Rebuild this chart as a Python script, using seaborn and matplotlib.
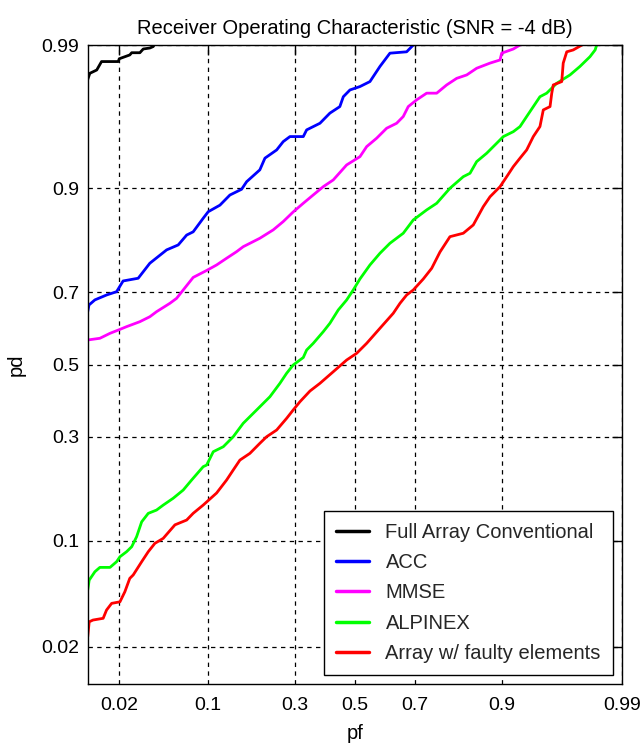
import math
import numpy as np
import pandas as pd
import matplotlib
matplotlib.use("Agg")
import matplotlib.pyplot as plt
import seaborn as sns

# ---------------- data ----------------
series_names = ["Full Array Conventional", "ACC", "MMSE", "ALPINEX", "Array w/ faulty elements"]
series_colors = ["#000000", "#0000ff", "#ff00ff", "#00ff00", "#ff0000"]

full_pf = [0.01, 0.0105, 0.0123, 0.0137, 0.0197, 0.0201, 0.025, 0.026, 0.0306, 0.0327, 0.0371, 0.0396, 0.045]
full_pd = [0.981, 0.983, 0.984, 0.9863, 0.9863, 0.987, 0.9879, 0.9884, 0.9884, 0.9892, 0.9894, 0.9897, 0.992]

acc_pf = [0.01, 0.0103, 0.0118, 0.0153, 0.019, 0.0218, 0.0296, 0.0371, 0.0506, 0.062, 0.0715, 0.0796,
          0.0933, 0.1008, 0.120, 0.1383, 0.162, 0.173, 0.204, 0.2168, 0.248, 0.2664, 0.286, 0.3267,
          0.3373, 0.3806, 0.414, 0.448, 0.46, 0.483, 0.5177, 0.5523, 0.5865, 0.62, 0.674, 0.6946, 0.715]
acc_pd = [0.6497, 0.6676, 0.681, 0.6936, 0.702, 0.7285, 0.735, 0.7695, 0.798, 0.808, 0.827, 0.833,
          0.8565, 0.867, 0.877, 0.8914, 0.899, 0.9084, 0.9218, 0.9335, 0.9409, 0.9477, 0.9515, 0.9515,
          0.9562, 0.9605, 0.9664, 0.9698, 0.9744, 0.9772, 0.9785, 0.9803, 0.985, 0.9883, 0.9886, 0.990, 0.991]

mmse_pf = [0.01, 0.0132, 0.0165, 0.0197, 0.0234, 0.0306, 0.0371, 0.0421, 0.0536, 0.0603, 0.0675, 0.0796,
           0.0984, 0.1143, 0.132, 0.1515, 0.1655, 0.204, 0.2386, 0.2664, 0.2957, 0.3267, 0.3586, 0.3916,
           0.4254, 0.4715, 0.5177, 0.541, 0.5753, 0.609, 0.642, 0.6633, 0.679, 0.7047, 0.7341, 0.762,
           0.788, 0.8124, 0.835, 0.8556, 0.8804, 0.8969, 0.8995, 0.9162, 0.9248, 0.935]
mmse_pd = [0.5708, 0.5757, 0.5898, 0.599, 0.6085, 0.6224, 0.636, 0.6497, 0.672, 0.685, 0.7063, 0.737,
           0.7532, 0.7657, 0.7804, 0.7943, 0.8045, 0.821, 0.8365, 0.851, 0.8667, 0.8798, 0.8915, 0.9023,
           0.9105, 0.9269, 0.9349, 0.9437, 0.9503, 0.9573, 0.9605, 0.9645, 0.9698, 0.973, 0.9759, 0.9759,
           0.9791, 0.9814, 0.9825, 0.9845, 0.9859, 0.9867, 0.9883, 0.9892, 0.990, 0.9905]

alp_pf = [0.01, 0.01035, 0.0118, 0.0132, 0.0165, 0.019, 0.0204, 0.0234, 0.026, 0.0287, 0.0317, 0.036,
          0.0421, 0.0476, 0.0568, 0.0675, 0.0776, 0.0933, 0.0984, 0.1088, 0.126, 0.1448, 0.1655, 0.1962,
          0.2298, 0.257, 0.2762, 0.2957, 0.3267, 0.3373, 0.3586, 0.3916, 0.414, 0.4425, 0.4715, 0.4944,
          0.5177, 0.5523, 0.5865, 0.62, 0.6633, 0.6945, 0.7341, 0.762, 0.7962, 0.8275, 0.842, 0.8556,
          0.8745, 0.8916, 0.902, 0.9162, 0.9248, 0.9327, 0.9465, 0.9526, 0.9606, 0.9695, 0.975, 0.9797,
          0.9818, 0.9824, 0.983]
alp_pd = [0.0503, 0.0582, 0.0657, 0.0698, 0.0698, 0.0755, 0.0808, 0.0864, 0.0923, 0.105, 0.126, 0.1392,
          0.1446, 0.153, 0.165, 0.1803, 0.2001, 0.2284, 0.232, 0.2627, 0.2747, 0.2995, 0.3343, 0.3703,
          0.4073, 0.4455, 0.4745, 0.4986, 0.5203, 0.542, 0.5613, 0.5944, 0.618, 0.6543, 0.6808, 0.7063,
          0.7333, 0.7657, 0.791, 0.8113, 0.8304, 0.8537, 0.8698, 0.8798, 0.9003, 0.9143, 0.9181, 0.9302,
          0.938, 0.9464, 0.9515, 0.955, 0.9584, 0.9645, 0.9744, 0.9759, 0.9797, 0.9825, 0.985, 0.9875,
          0.989, 0.990, 0.992]

faulty_pf = [0.01, 0.01035, 0.0113, 0.0142, 0.0153, 0.0171, 0.0204, 0.0226, 0.025, 0.0268, 0.0317, 0.036,
             0.0408, 0.0476, 0.0586, 0.0715, 0.0796, 0.0933, 0.1143, 0.132, 0.1448, 0.1584, 0.1804, 0.204,
             0.2212, 0.248, 0.2762, 0.2957, 0.3163, 0.348, 0.3806, 0.4254, 0.4715, 0.5063, 0.541, 0.5865,
             0.631, 0.6528, 0.674, 0.6945, 0.7244, 0.7483, 0.7707, 0.7962, 0.8275, 0.8488, 0.8683, 0.8804,
             0.8969, 0.907, 0.9162, 0.9248, 0.9327, 0.9399, 0.9465, 0.9496, 0.9554, 0.9568, 0.958, 0.9642,
             0.9652, 0.9675, 0.9714, 0.976, 0.978]
faulty_pd = [0.0237, 0.0305, 0.0314, 0.0323, 0.0369, 0.041, 0.042, 0.049, 0.0597, 0.0627, 0.0755, 0.0864,
             0.0964, 0.1028, 0.1215, 0.1287, 0.1393, 0.153, 0.1747, 0.2001, 0.2212, 0.2432, 0.2588, 0.283,
             0.2995, 0.3167, 0.3475, 0.3703, 0.3932, 0.4235, 0.4455, 0.479, 0.513, 0.5325, 0.5613, 0.604,
             0.6454, 0.672, 0.6936, 0.7063, 0.7333, 0.7582, 0.7936, 0.824, 0.8304, 0.8452, 0.8748, 0.889,
             0.9023, 0.9143, 0.9252, 0.9335, 0.9409, 0.9515, 0.9584, 0.9681, 0.9698, 0.9759, 0.9791, 0.9803,
             0.9859, 0.9886, 0.989, 0.990, 0.992]

tick_values = [0.02, 0.1, 0.3, 0.5, 0.7, 0.9, 0.99]
tick_labels = ["0.02", "0.1", "0.3", "0.5", "0.7", "0.9", "0.99"]

title_text = "Receiver Operating Characteristic (SNR = -4 dB)"
xlabel_text = "pf"
ylabel_text = "pd"

# ---------------- normal-probability scale ----------------
_A = [-3.969683028665376e+01, 2.209460984245205e+02, -2.759285104469687e+02,
      1.383577518672690e+02, -3.066479806614716e+01, 2.506628277459239e+00]
_B = [-5.447609879822406e+01, 1.615858368580409e+02, -1.556989798598866e+02,
      6.680131188771972e+01, -1.328068155288572e+01]
_C = [-7.784894002430293e-03, -3.223964580411365e-01, -2.400758277161838e+00,
      -2.549732539343734e+00, 4.374664141464968e+00, 2.938163982698783e+00]
_D = [7.784695709041462e-03, 3.224671290700398e-01, 2.445134137142996e+00,
      3.754408661907416e+00]


def norm_ppf(p):
    p = np.clip(np.asarray(p, dtype=float), 1e-12, 1 - 1e-12)
    out = np.empty_like(p)
    plow, phigh = 0.02425, 1 - 0.02425
    lo = p < plow
    hi = p > phigh
    mid = ~(lo | hi)
    if np.any(lo):
        q = np.sqrt(-2 * np.log(p[lo]))
        out[lo] = (((((_C[0]*q+_C[1])*q+_C[2])*q+_C[3])*q+_C[4])*q+_C[5]) / \
                  ((((_D[0]*q+_D[1])*q+_D[2])*q+_D[3])*q+1)
    if np.any(hi):
        q = np.sqrt(-2 * np.log(1 - p[hi]))
        out[hi] = -(((((_C[0]*q+_C[1])*q+_C[2])*q+_C[3])*q+_C[4])*q+_C[5]) / \
                   ((((_D[0]*q+_D[1])*q+_D[2])*q+_D[3])*q+1)
    if np.any(mid):
        q = p[mid] - 0.5
        r = q * q
        out[mid] = (((((_A[0]*r+_A[1])*r+_A[2])*r+_A[3])*r+_A[4])*r+_A[5]) * q / \
                   (((((_B[0]*r+_B[1])*r+_B[2])*r+_B[3])*r+_B[4])*r+1)
    return out


_verf = np.vectorize(math.erf, otypes=[float])


def norm_cdf(z):
    z = np.asarray(z, dtype=float)
    return 0.5 * (1 + _verf(z / math.sqrt(2)))


# ---------------- data frame ----------------
frames = []
for name, xs, ys in zip(series_names,
                        [full_pf, acc_pf, mmse_pf, alp_pf, faulty_pf],
                        [full_pd, acc_pd, mmse_pd, alp_pd, faulty_pd]):
    frames.append(pd.DataFrame({"pf": xs, "pd": ys, "series": name}))
df = pd.concat(frames, ignore_index=True)

# ---------------- plot ----------------
sns.set_style("white")
plt.rcParams["font.family"] = ["Liberation Sans", "DejaVu Sans"]

fig = plt.figure(figsize=(6.44, 7.48), dpi=100)
ax = fig.add_axes([87.7 / 644, 64 / 748, (622 - 87.7) / 644, (684 - 45) / 748])

sns.lineplot(data=df, x="pf", y="pd", hue="series", hue_order=series_names,
             palette=dict(zip(series_names, series_colors)), sort=False,
             estimator=None, linewidth=2.0, ax=ax)

ax.set_xscale("function", functions=(norm_ppf, norm_cdf))
ax.set_yscale("function", functions=(norm_ppf, norm_cdf))
ax.set_xlim(0.01, 0.99)
ax.set_ylim(0.01, 0.99)

ax.set_xticks(tick_values)
ax.set_xticklabels(tick_labels)
ax.set_yticks(tick_values)
ax.set_yticklabels(tick_labels)
ax.minorticks_off()

ax.tick_params(axis="both", which="major", direction="in", length=7, width=1.0,
               top=True, right=True, labelsize=14, colors="black", pad=6)
ax.tick_params(axis="x", pad=9.5)
ax.grid(True, color="black", linestyle=(0, (3.5, 3.5)), linewidth=0.9)
ax.set_axisbelow(True)
for sp in ax.spines.values():
    sp.set_color("black")
    sp.set_linewidth(1.0)
    sp.set_visible(True)

ax.set_title(title_text, fontsize=14.5, color="black", pad=8)
ax.set_xlabel(xlabel_text, fontsize=14.5, color="black", labelpad=7)
ax.set_ylabel(ylabel_text, fontsize=14.5, color="black", labelpad=11)

leg = ax.legend(loc="lower right", fontsize=14.5, frameon=True, fancybox=False,
                edgecolor="black", framealpha=1, labelspacing=0.56, handlelength=1.65,
                handletextpad=0.8, borderaxespad=0.45, borderpad=0.6)
leg.get_frame().set_linewidth(1.0)
for line in leg.get_lines():
    line.set_linewidth(2.5)

fig.savefig("out.png", dpi=100)
